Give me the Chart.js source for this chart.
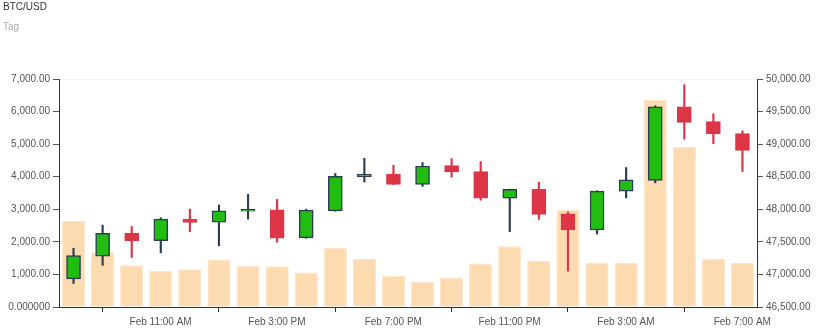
<!DOCTYPE html>
<html>
<head>
<meta charset="utf-8">
<script src="https://cdn.jsdelivr.net/npm/chart.js@4.4.1/dist/chart.umd.min.js"></script>
<style>
  html, body { margin: 0; padding: 0; background: #fff; }
  #wrap { width: 819px; height: 333px; }
</style>
</head>
<body>
<div id="wrap"><canvas id="btcChart"></canvas></div>
<script>
const HOURS = ['10:00 AM', '11:00 AM', '12:00 PM', '1:00 PM', '2:00 PM', '3:00 PM', '4:00 PM', '5:00 PM',
    '6:00 PM', '7:00 PM', '8:00 PM', '9:00 PM', '10:00 PM', '11:00 PM', '12:00 AM', '1:00 AM',
    '2:00 AM', '3:00 AM', '4:00 AM', '5:00 AM', '6:00 AM', '7:00 AM', '8:00 AM', '9:00 AM']
const SHOWN_TICKS = [1, 5, 9, 13, 17, 21]

const OPEN = [46931, 47281, 47631, 47520, 47850, 47804, 47970, 47991, 47561, 47976, 48498, 48539,
    48382, 48671, 48580, 48169, 48306, 47930, 47682, 48280, 48443, 49574, 49346, 49163]
const CLOSE = [47291, 47631, 47520, 47850, 47798, 47976, 48000, 47555, 47987, 48504, 48535, 48382,
    48665, 48574, 48169, 48306, 47920, 47682, 48280, 48452, 49574, 49335, 49158, 48904]
const HIGH = [47402, 47758, 47737, 47870, 48002, 48067, 48230, 48154, 48002, 48550, 48783, 48676,
    48717, 48778, 48732, 48310, 48417, 47961, 48285, 48641, 49589, 49913, 49467, 49204]
const LOW = [46861, 47139, 47261, 47332, 47657, 47439, 47850, 47494, 47555, 47970, 48417, 48380,
    48352, 48493, 48139, 47657, 47844, 47052, 47621, 48174, 48407, 49076, 49006, 48580]
const VOLUME = [2640, 1683, 1278, 1105, 1157, 1461, 1269, 1248, 1056, 1817, 1470, 953,
    782, 904, 1339, 1866, 1409, 2983, 1370, 1349, 6352, 4910, 1482, 1349]

const GREEN = '#21be0f'
const RED = '#dc3545'
const DARK = '#2c3e50'
const PEACH = '#fddbb0'
const FONT = 'Liberation Sans'

const isUp = OPEN.map((o, i) => CLOSE[i] >= o)

function money(v) {
    if (v === 0) return '0.000000'
    return v.toLocaleString('en-US', { minimumFractionDigits: 2, maximumFractionDigits: 2 })
}

const btcChart = new Chart(document.getElementById('btcChart'), {
    data: {
        labels: HOURS,
        datasets: [
            {
                type: 'bar',
                label: 'Bodies',
                data: OPEN.map((o, i) => [o, CLOSE[i]]),
                yAxisID: 'price',
                grouped: false,
                barThickness: 14,
                backgroundColor: isUp.map(u => u ? GREEN : RED),
                borderColor: isUp.map(u => u ? DARK : RED),
                borderWidth: 1.5,
                borderSkipped: false,
                order: 1
            },
            {
                type: 'bar',
                label: 'Wicks',
                data: LOW.map((l, i) => [l, HIGH[i]]),
                yAxisID: 'price',
                grouped: false,
                barThickness: 1.5,
                backgroundColor: isUp.map(u => u ? DARK : RED),
                borderWidth: 0,
                order: 2
            },
            {
                type: 'bar',
                label: 'Volume',
                data: VOLUME,
                yAxisID: 'volume',
                grouped: false,
                barPercentage: 0.8,
                categoryPercentage: 1,
                backgroundColor: PEACH,
                borderColor: '#fee6c8',
                borderWidth: 1,
                borderSkipped: 'start',
                order: 3
            }
        ]
    },
    options: {
        responsive: true,
        maintainAspectRatio: false,
        animation: false,
        layout: {
            padding: { left: 3, right: 0, top: 0, bottom: 0 }
        },
        plugins: {
            legend: { display: false },
            tooltip: { enabled: false },
            title: {
                display: true,
                text: 'BTC/USD',
                align: 'start',
                color: '#333',
                font: { family: FONT, size: 10, weight: 'normal' },
                padding: { top: 1, bottom: 8 }
            },
            subtitle: {
                display: true,
                text: 'Tag',
                align: 'start',
                color: '#aaa',
                font: { family: FONT, size: 10 },
                padding: { top: 0, bottom: 46 }
            }
        },
        scales: {
            x: {
                type: 'category',
                offset: true,
                afterBuildTicks: function (scale) {
                    scale.ticks = scale.ticks.filter(t => SHOWN_TICKS.includes(t.value))
                },
                afterFit: function (scale) {
                    scale.height = 26
                },
                ticks: {
                    autoSkip: false,
                    maxRotation: 0,
                    labelOffset: 58,
                    padding: 4,
                    color: '#555',
                    font: { family: FONT, size: 10 },
                    callback: function (value) {
                        return 'Feb ' + HOURS[value]
                    }
                },
                grid: {
                    offset: false,
                    drawOnChartArea: false,
                    drawTicks: true,
                    tickLength: 5,
                    tickColor: '#333'
                },
                border: { color: '#333', width: 1 }
            },
            volume: {
                type: 'linear',
                position: 'left',
                min: 0,
                max: 7000,
                afterFit: function (scale) {
                    scale.width = 56
                },
                ticks: {
                    stepSize: 1000,
                    padding: 3,
                    color: '#555',
                    font: { family: FONT, size: 10 },
                    callback: money
                },
                grid: {
                    drawTicks: true,
                    tickLength: 6,
                    tickColor: '#555',
                    color: ctx => ctx.tick && ctx.tick.value === 7000 ? 'rgba(253,219,176,0.35)' : 'rgba(0,0,0,0)'
                },
                border: { color: '#333', width: 1 }
            },
            price: {
                type: 'linear',
                position: 'right',
                min: 46500,
                max: 50000,
                afterFit: function (scale) {
                    scale.width = 62
                },
                ticks: {
                    stepSize: 500,
                    padding: 3,
                    color: '#555',
                    font: { family: FONT, size: 10 },
                    callback: money
                },
                grid: {
                    drawOnChartArea: false,
                    drawTicks: true,
                    tickLength: 6,
                    tickColor: '#555'
                },
                border: { color: '#333', width: 1 }
            }
        }
    }
})
</script>
</body>
</html>
